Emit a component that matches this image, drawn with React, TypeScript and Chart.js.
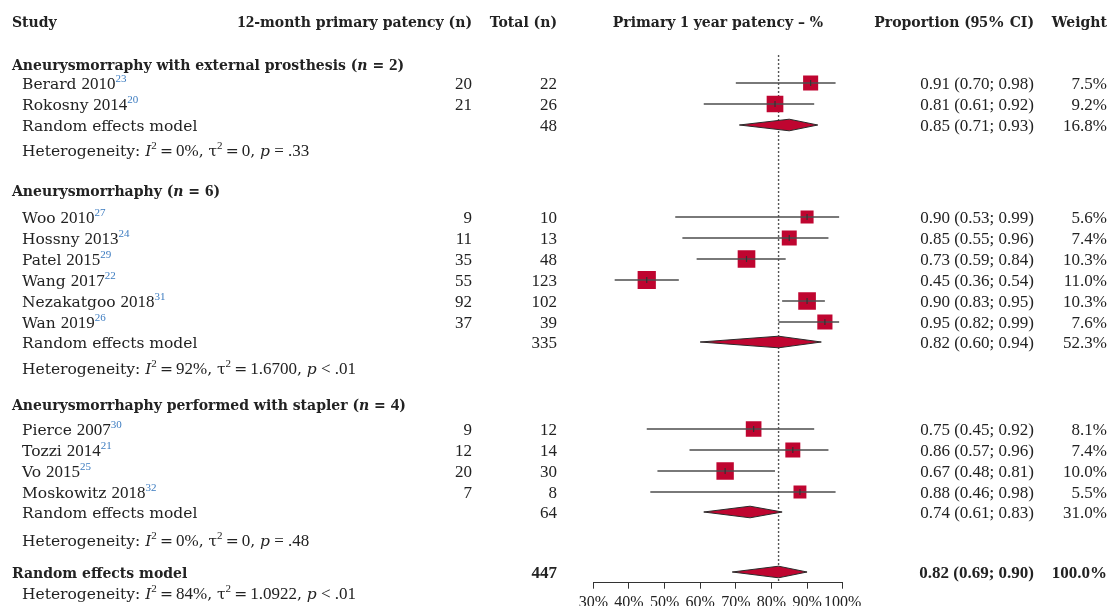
import React, { useEffect, useRef } from 'react';
import { Chart, registerables } from 'chart.js';

Chart.register(...registerables);

// ---------------- DATA ----------------
const studyNames = [
  'Berard 2010', 'Rokosny 2014',
  'Woo 2010', 'Hossny 2013', 'Patel 2015', 'Wang 2017', 'Nezakatgoo 2018', 'Wan 2019',
  'Pierce 2007', 'Tozzi 2014', 'Vo 2015', 'Moskowitz 2018',
];
const studyRefs = ['23', '20', '27', '24', '29', '22', '31', '26', '30', '21', '25', '32'];
const studyGroup = [0, 0, 1, 1, 1, 1, 1, 1, 2, 2, 2, 2];
const studyEvents = [20, 21, 9, 11, 35, 55, 92, 37, 9, 12, 20, 7];
const studyTotals = [22, 26, 10, 13, 48, 123, 102, 39, 12, 14, 30, 8];
const studyEst = [0.91, 0.81, 0.90, 0.85, 0.73, 0.45, 0.90, 0.95, 0.75, 0.86, 0.67, 0.88];
const studyLo = [0.70, 0.61, 0.53, 0.55, 0.59, 0.36, 0.83, 0.82, 0.45, 0.57, 0.48, 0.46];
const studyHi = [0.98, 0.92, 0.99, 0.96, 0.84, 0.54, 0.95, 0.99, 0.92, 0.96, 0.81, 0.98];
const studyWeight = [7.5, 9.2, 5.6, 7.4, 10.3, 11.0, 10.3, 7.6, 8.1, 7.4, 10.0, 5.5];

const groupTitles = [
  'Aneurysmorraphy with external prosthesis',
  'Aneurysmorrhaphy',
  'Aneurysmorrhaphy performed with stapler',
];
const groupK = [2, 6, 4];
const groupTotals = [48, 335, 64];
const groupEst = [0.85, 0.82, 0.74];
const groupLo = [0.71, 0.60, 0.61];
const groupHi = [0.93, 0.94, 0.83];
const groupWeight = [16.8, 52.3, 31.0];
const groupI2 = ['0%', '92%', '0%'];
const groupTau2 = ['0', '1.6700', '0'];
const groupP = ['= .33', '< .01', '= .48'];

const overallTotal = 447;
const overallEst = 0.82;
const overallLo = 0.69;
const overallHi = 0.90;
const overallWeight = 100.0;
const overallI2 = '84%';
const overallTau2 = '1.0922';
const overallP = '< .01';

const xTickValues = [0.3, 0.4, 0.5, 0.6, 0.7, 0.8, 0.9, 1.0];

// ---------------- LAYOUT ----------------
const W = 1109;
const CANVAS_H = 622;
const AXIS_Y = 582.7; // chart-area bottom (px rows are used as y units)
const PLOT_LEFT = 593.3;
const PLOT_RIGHT = 842.7;
const ROW_HEADER = 21;
const groupTitleRows = [64, 190, 404];
const studyRows = [83, 104, 217, 238, 259, 280, 301, 322, 429, 450, 471, 492];
const groupModelRows = [125, 342, 512];
const groupHetRows = [150, 368, 540];
const overallRow = 572;
const overallHetRow = 593;
const DOT_TOP = 55;
const DIAMOND_H = 5.8;
const SQUARE_K = 5.5;

const COL_STUDY_X = 12;
const COL_NAME_X = 22;
const COL_EVENTS_R = 472;
const COL_TOTAL_R = 557;
const COL_PLOT_C = 718;
const COL_CI_R = 1034;
const COL_W_R = 1107;

const TEXT_FAMILY = '"DejaVu Serif", serif';
const NUM_FAMILY = '"Liberation Serif", serif';
const TEXT_SIZE = 15.5;
const BOLD_SIZE = 14;
const NUM_SIZE = 17;
const SUP_SIZE = 11;
const BASE_OFF = 5.5;

const RED = '#BF0530';
const TEXT_COLOR = '#222';
const REF_BLUE = '#3d7cc0';

type Run = { t: string; b?: boolean; i?: boolean; sup?: boolean; num?: boolean; color?: string };

function fontFor(r: Run) {
  const style = r.i ? 'italic ' : '';
  const weight = r.b ? 'bold ' : '';
  if (r.sup) return `${style}${weight}${SUP_SIZE}px ${NUM_FAMILY}`;
  if (r.num) return `${style}${weight}${NUM_SIZE}px ${NUM_FAMILY}`;
  return `${style}${weight}${r.b ? BOLD_SIZE : TEXT_SIZE}px ${TEXT_FAMILY}`;
}

function split(text: string, b = false): Run[] {
  return text
    .split(/(\d+)/)
    .filter((s) => s.length > 0)
    .map((s) => ({ t: s, b, num: /^\d+$/.test(s) }));
}

function drawRuns(ctx: CanvasRenderingContext2D, runs: Run[], x: number, y: number, align: 'left' | 'right' | 'center') {
  const widths = runs.map((r) => {
    ctx.font = fontFor(r);
    return ctx.measureText(r.t).width;
  });
  const total = widths.reduce((a, b) => a + b, 0);
  let cx = align === 'left' ? x : align === 'right' ? x - total : x - total / 2;
  const base = y + BASE_OFF;
  runs.forEach((r, k) => {
    ctx.font = fontFor(r);
    ctx.fillStyle = r.color || TEXT_COLOR;
    ctx.fillText(r.t, cx, r.sup ? base - 6.5 : base);
    cx += widths[k];
  });
}

const ciText = (e: number, l: number, h: number) => `${e.toFixed(2)} (${l.toFixed(2)}; ${h.toFixed(2)})`;

function hetRuns(i2: string, tau2: string, p: string): Run[] {
  return [
    { t: 'Heterogeneity: ' },
    { t: 'I', i: true },
    { t: '2', sup: true },
    { t: '\u2009=\u2009' },
    { t: i2, num: true },
    { t: ', \u03c4' },
    { t: '2', sup: true },
    { t: '\u2009=\u2009' },
    { t: tau2, num: true },
    { t: ', ' },
    { t: 'p', i: true },
    { t: ' ' + p, num: true },
  ];
}

const tablePlugin = {
  id: 'forestTable',
  afterDraw(chart: any) {
    const ctx: CanvasRenderingContext2D = chart.ctx;
    const ys = chart.scales.y;
    const py = (v: number) => ys.getPixelForValue(v);
    ctx.save();
    ctx.textBaseline = 'alphabetic';
    ctx.textAlign = 'left';

    // header
    const hy = py(ROW_HEADER);
    drawRuns(ctx, [{ t: 'Study', b: true }], COL_STUDY_X, hy, 'left');
    drawRuns(ctx, split('12-month primary patency (n)', true), COL_EVENTS_R, hy, 'right');
    drawRuns(ctx, [{ t: 'Total (n)', b: true }], COL_TOTAL_R, hy, 'right');
    drawRuns(ctx, split('Primary 1 year patency \u2013 %', true), COL_PLOT_C, hy, 'center');
    drawRuns(ctx, [{ t: 'Proportion (', b: true }, { t: '95%', b: true, num: true }, { t: ' CI)', b: true }], COL_CI_R, hy, 'right');
    drawRuns(ctx, [{ t: 'Weight', b: true }], COL_W_R, hy, 'right');

    groupTitles.forEach((title, g) => {
      drawRuns(
        ctx,
        [
          { t: title + ' (', b: true },
          { t: 'n', b: true, i: true },
          { t: ' = ', b: true },
          { t: String(groupK[g]), b: true, num: true },
          { t: ')', b: true },
        ],
        COL_STUDY_X,
        py(groupTitleRows[g]),
        'left'
      );
      studyNames.forEach((name, i) => {
        if (studyGroup[i] !== g) return;
        const y = py(studyRows[i]);
        drawRuns(ctx, [...split(name), { t: studyRefs[i], sup: true, color: REF_BLUE }], COL_NAME_X, y, 'left');
        drawRuns(ctx, [{ t: String(studyEvents[i]), num: true }], COL_EVENTS_R, y, 'right');
        drawRuns(ctx, [{ t: String(studyTotals[i]), num: true }], COL_TOTAL_R, y, 'right');
        drawRuns(ctx, [{ t: ciText(studyEst[i], studyLo[i], studyHi[i]), num: true }], COL_CI_R, y, 'right');
        drawRuns(ctx, [{ t: studyWeight[i].toFixed(1) + '%', num: true }], COL_W_R, y, 'right');
      });
      const my = py(groupModelRows[g]);
      drawRuns(ctx, [{ t: 'Random effects model' }], COL_NAME_X, my, 'left');
      drawRuns(ctx, [{ t: String(groupTotals[g]), num: true }], COL_TOTAL_R, my, 'right');
      drawRuns(ctx, [{ t: ciText(groupEst[g], groupLo[g], groupHi[g]), num: true }], COL_CI_R, my, 'right');
      drawRuns(ctx, [{ t: groupWeight[g].toFixed(1) + '%', num: true }], COL_W_R, my, 'right');
      drawRuns(ctx, hetRuns(groupI2[g], groupTau2[g], groupP[g]), COL_NAME_X, py(groupHetRows[g]), 'left');
    });

    const oy = py(overallRow);
    drawRuns(ctx, [{ t: 'Random effects model', b: true }], COL_STUDY_X, oy, 'left');
    drawRuns(ctx, [{ t: String(overallTotal), num: true, b: true }], COL_TOTAL_R, oy, 'right');
    drawRuns(ctx, [{ t: ciText(overallEst, overallLo, overallHi), num: true, b: true }], COL_CI_R, oy, 'right');
    drawRuns(ctx, [{ t: overallWeight.toFixed(1) + '%', num: true, b: true }], COL_W_R, oy, 'right');
    drawRuns(ctx, hetRuns(overallI2, overallTau2, overallP), COL_NAME_X, py(overallHetRow), 'left');
    ctx.restore();
  },
};

const diamondPts = (e: number, l: number, h: number, y: number) => [
  { x: l, y },
  { x: e, y: y - DIAMOND_H },
  { x: h, y },
  { x: e, y: y + DIAMOND_H },
  { x: l, y },
];

export default function App() {
  const ref = useRef<HTMLCanvasElement>(null);
  useEffect(() => {
    const canvas = ref.current;
    if (!canvas) return;

    const whiskers = studyNames.map((_, i) => ({
      type: 'line',
      data: [
        { x: studyLo[i], y: studyRows[i] },
        { x: studyHi[i], y: studyRows[i] },
      ],
      borderColor: '#4d4d4d',
      borderWidth: 1.3,
      pointRadius: 0,
      fill: false,
      order: 2,
    }));

    const diamonds = [
      ...groupEst.map((e, g) => diamondPts(e, groupLo[g], groupHi[g], groupModelRows[g])),
      diamondPts(overallEst, overallLo, overallHi, overallRow),
    ].map((pts) => ({
      type: 'line',
      data: pts,
      borderColor: '#2a2a2a',
      borderWidth: 1,
      backgroundColor: RED,
      pointRadius: 0,
      fill: 'shape',
      tension: 0,
      order: 0,
    }));

    const chart = new Chart(canvas, {
      type: 'scatter',
      data: {
        datasets: [
          {
            type: 'line',
            data: [
              { x: overallEst, y: DOT_TOP },
              { x: overallEst, y: AXIS_Y },
            ],
            borderColor: '#555',
            borderWidth: 1.4,
            borderDash: [2, 2],
            pointRadius: 0,
            fill: false,
            order: 5,
          } as any,
          {
            type: 'scatter',
            data: studyEst.map((e, i) => ({ x: e, y: studyRows[i] })),
            pointStyle: 'rect',
            pointRadius: studyWeight.map((w) => (SQUARE_K * Math.sqrt(w)) / 1.4142),
            pointHoverRadius: studyWeight.map((w) => (SQUARE_K * Math.sqrt(w)) / 1.4142),
            backgroundColor: RED,
            borderColor: RED,
            borderWidth: 0,
            order: 3,
          } as any,
          ...(whiskers as any[]),
          {
            type: 'scatter',
            data: studyEst.map((e, i) => ({ x: e, y: studyRows[i] })),
            pointStyle: 'line',
            rotation: 90,
            pointRadius: 3,
            borderColor: '#333',
            borderWidth: 1.2,
            order: 1,
          } as any,
          ...(diamonds as any[]),
        ],
      },
      options: {
        animation: false,
        responsive: false,
        maintainAspectRatio: false,
        events: [],
        layout: {
          autoPadding: false,
          padding: { left: PLOT_LEFT, right: W - PLOT_RIGHT, top: 0, bottom: 6.1 },
        },
        plugins: {
          legend: { display: false },
          tooltip: { enabled: false },
        },
        scales: {
          x: {
            type: 'linear',
            min: xTickValues[0],
            max: xTickValues[xTickValues.length - 1],
            position: 'bottom',
            afterBuildTicks: (s: any) => {
              s.ticks = xTickValues.map((v) => ({ value: v }));
            },
            ticks: {
              autoSkip: false,
              maxRotation: 0,
              padding: 4,
              color: '#222',
              font: { family: NUM_FAMILY, size: 16 },
              callback: (v: any) => `${Math.round(Number(v) * 100)}%`,
            },
            grid: { drawOnChartArea: false, drawTicks: true, tickLength: 6, color: '#333', lineWidth: 1 },
            border: { display: true, color: '#333', width: 1 },
          },
          y: {
            type: 'linear',
            min: 0,
            max: AXIS_Y,
            reverse: true,
            display: false,
          },
        },
      } as any,
      plugins: [tablePlugin],
    });
    return () => chart.destroy();
  }, []);

  return (
    <div style={{ position: 'fixed', left: 0, top: 0, width: W, height: CANVAS_H, background: '#fff' }}>
      <canvas ref={ref} width={W} height={CANVAS_H} style={{ display: 'block' }} />
    </div>
  );
}
